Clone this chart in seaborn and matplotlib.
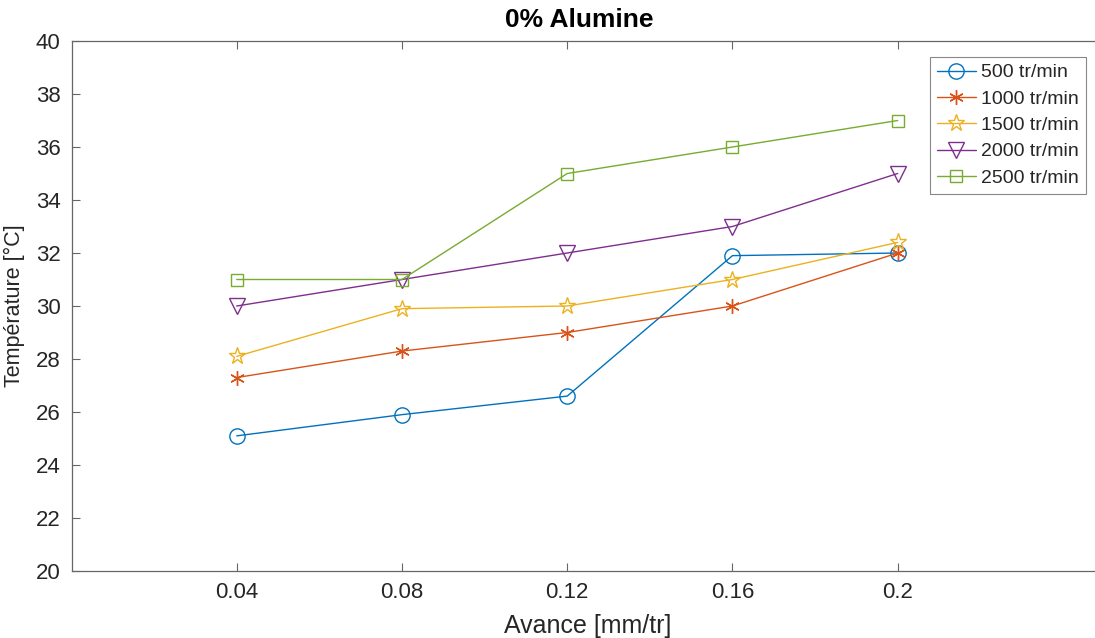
import matplotlib
matplotlib.use('Agg')
import matplotlib.pyplot as plt
import seaborn as sns

# données
avance = [0.04, 0.08, 0.12, 0.16, 0.2]
t_500 = [25.1, 25.9, 26.6, 31.9, 32.0]
t_1000 = [27.3, 28.3, 29.0, 30.0, 32.0]
t_1500 = [28.1, 29.9, 30.0, 31.0, 32.4]
t_2000 = [30.0, 31.0, 32.0, 33.0, 35.0]
t_2500 = [31.0, 31.0, 35.0, 36.0, 37.0]
labels = ['500 tr/min', '1000 tr/min', '1500 tr/min', '2000 tr/min', '2500 tr/min']
x_ticks = [0.04, 0.08, 0.12, 0.16, 0.2]
x_ticklabels = ['0.04', '0.08', '0.12', '0.16', '0.2']
y_ticks = list(range(20, 41, 2))

series = [t_500, t_1000, t_1500, t_2000, t_2500]
colors = ['#0072BD', '#D95319', '#EDB120', '#7E2F8E', '#77AC30']
markers = ['o', (6, 2, 0), '*', 'v', 's']
msizes = [11, 10.5, 12.5, 11.5, 8.5]

sns.set_style('white')
plt.rcParams['font.family'] = ['Liberation Sans', 'DejaVu Sans']

fig = plt.figure(figsize=(10.95, 6.38), dpi=100)
W, H = 1095, 638
left_px, top_px, bottom_px = 71.5, 41, 571
right_px = left_px + 0.25 * 4131
ax = fig.add_axes([left_px / W, 1 - bottom_px / H, (right_px - left_px) / W, (bottom_px - top_px) / H])

for y, lab, c, m, ms in zip(series, labels, colors, markers, msizes):
    sns.lineplot(x=avance, y=y, ax=ax, color=c, marker=m, markersize=ms,
                 markerfacecolor='none', markeredgecolor=c, markeredgewidth=1.0,
                 linewidth=1.0, label=lab)

ax.set_xlim(0, 0.25)
ax.set_ylim(20, 40)
ax.set_xticks(x_ticks)
ax.set_xticklabels(x_ticklabels)
ax.set_yticks(y_ticks)

axcol = '#666666'
for side in ['left', 'top', 'bottom']:
    ax.spines[side].set_visible(True)
    ax.spines[side].set_color(axcol)
    ax.spines[side].set_linewidth(0.9)
ax.spines['right'].set_visible(False)
ax.tick_params(direction='in', length=6, width=0.8, color=axcol, labelcolor='#262626',
               labelsize=16, top=True, left=True, bottom=True, right=False, pad=8)

ax.set_xlabel('Avance [mm/tr]', fontsize=18, color='#262626', labelpad=8)
ax.set_ylabel('Température [°C]', fontsize=15.5, color='#262626', labelpad=8)
fig.text(579 / W, 1 - 20 / H, '0% Alumine', ha='center', va='center',
         fontsize=19, fontweight='bold', color='black')

leg = ax.legend(loc='upper right', bbox_to_anchor=((1086 - left_px) / (right_px - left_px), (571 - 57) / 530),
                fontsize=14, frameon=True, fancybox=False, framealpha=1,
                edgecolor='#888888', handlelength=2.0, handletextpad=0.3,
                labelspacing=0.45, borderpad=0.35, borderaxespad=0)
leg.get_frame().set_linewidth(0.8)

fig.savefig('out.png', dpi=100)
